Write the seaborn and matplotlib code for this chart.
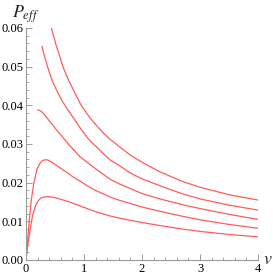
import matplotlib
matplotlib.use("Agg")
import matplotlib.pyplot as plt
import seaborn as sns
from matplotlib.ticker import MultipleLocator, FormatStrFormatter

sns.set_style("white")
plt.rcParams['font.family'] = ['Liberation Serif', 'DejaVu Serif']
plt.rcParams['mathtext.fontset'] = 'stix'

# curve data (v, P_eff)
x1 = [0.437, 0.47, 0.5, 0.535, 0.575, 0.61, 0.65, 0.7, 0.747, 0.8, 0.85, 0.948, 1.1, 1.207, 1.33, 1.45, 1.62, 1.8, 2.0, 2.31, 2.7, 3.0, 3.5, 4.0]
y1 = [0.0601, 0.0583, 0.0566, 0.0548, 0.0530, 0.0512, 0.0495, 0.0477, 0.0461, 0.0445, 0.0430, 0.0401, 0.0368, 0.0349, 0.0329, 0.0312, 0.0292, 0.0271, 0.0253, 0.0228, 0.0203, 0.0188, 0.0169, 0.0155]

x2 = [0.276, 0.31, 0.345, 0.4, 0.46, 0.55, 0.632, 0.75, 0.862, 0.931, 1.07, 1.149, 1.3, 1.448, 1.62, 1.8, 2.0, 2.31, 2.7, 3.0, 3.5, 4.0]
y2 = [0.0553, 0.0531, 0.0513, 0.0486, 0.0461, 0.0432, 0.0409, 0.0382, 0.0358, 0.0342, 0.0314, 0.0302, 0.0280, 0.0259, 0.0243, 0.0225, 0.0210, 0.0192, 0.0171, 0.0158, 0.0142, 0.0129]

x3 = [0.201, 0.23, 0.259, 0.3, 0.345, 0.4, 0.46, 0.53, 0.603, 0.747, 0.931, 1.2, 1.448, 1.62, 2.0, 2.31, 2.7, 3.0, 3.5, 4.0]
y3 = [0.0388, 0.0387, 0.0385, 0.0379, 0.0371, 0.0360, 0.0349, 0.0336, 0.0323, 0.0297, 0.0267, 0.0236, 0.0209, 0.0196, 0.0172, 0.0158, 0.0143, 0.0133, 0.0118, 0.0105]

x4 = [0.0, 0.011, 0.052, 0.092, 0.138, 0.195, 0.24, 0.282, 0.325, 0.368, 0.42, 0.483, 0.58, 0.69, 0.8, 0.931, 1.034, 1.2, 1.448, 1.62, 2.0, 2.31, 2.7, 3.0, 3.5, 4.0]
y4 = [0.0, 0.0017, 0.0095, 0.0155, 0.0202, 0.0237, 0.0250, 0.0257, 0.0259, 0.0259, 0.0255, 0.0249, 0.0239, 0.0228, 0.0216, 0.0204, 0.0194, 0.0180, 0.0163, 0.0154, 0.0137, 0.0126, 0.0113, 0.0104, 0.0092, 0.0082]

x5 = [0.0, 0.011, 0.052, 0.109, 0.167, 0.21, 0.253, 0.31, 0.368, 0.42, 0.483, 0.575, 0.69, 0.805, 1.034, 1.2, 1.448, 1.62, 2.0, 2.31, 2.7, 3.0, 3.5, 4.0]
y5 = [0.0, 0.0017, 0.0060, 0.0112, 0.0142, 0.0153, 0.0160, 0.0163, 0.0164, 0.0163, 0.0162, 0.0158, 0.0153, 0.0147, 0.0134, 0.0125, 0.0114, 0.0108, 0.0097, 0.0089, 0.0080, 0.0074, 0.0066, 0.0060]

curves = [(x1, y1), (x2, y2), (x3, y3), (x4, y4), (x5, y5)]

fig = plt.figure(figsize=(2.73, 2.78), dpi=100)
ax = fig.add_axes([26/273, 18/278, 232/273, 232/278])

line_color = '#ff5c5c'
for xs, ys in curves:
    sns.lineplot(x=xs, y=ys, ax=ax, color=line_color, lw=0.9, sort=False, estimator=None)

ax.set_xlim(0, 4)
ax.set_ylim(0, 0.06)

for s in ['top', 'right']:
    ax.spines[s].set_visible(False)
for s in ['left', 'bottom']:
    ax.spines[s].set_color('#9a9a9a')
    ax.spines[s].set_linewidth(0.8)

ax.xaxis.set_major_locator(MultipleLocator(1))
ax.xaxis.set_minor_locator(MultipleLocator(0.2))
ax.yaxis.set_major_locator(MultipleLocator(0.01))
ax.yaxis.set_minor_locator(MultipleLocator(0.002))
ax.yaxis.set_major_formatter(FormatStrFormatter('%.2f'))
ax.tick_params(which='major', direction='in', length=4, width=0.7, color='#9a9a9a',
               labelsize=9, pad=2, labelcolor='black')
ax.tick_params(which='minor', direction='in', length=2, width=0.6, color='#9a9a9a')
ax.tick_params(axis='both', which='both', bottom=True, left=True)

fig.text(12/273, 1 - 18/278, r'$P_{eff}$', fontsize=13, ha='left', va='baseline')
fig.text(263/273, 1 - 264/278, r'$v$', fontsize=13, ha='left', va='baseline')

fig.savefig('out.png', dpi=100, facecolor='white')
